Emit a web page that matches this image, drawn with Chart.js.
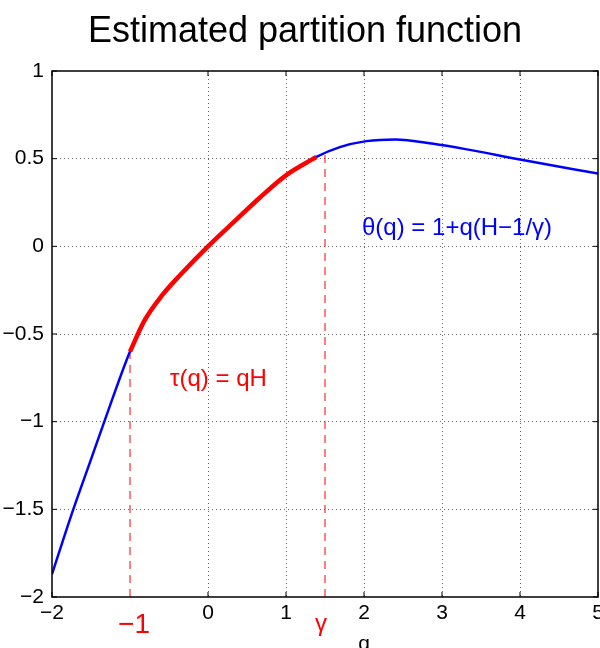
<!DOCTYPE html>
<html>
<head>
<meta charset="utf-8">
<script src="https://cdn.jsdelivr.net/npm/chart.js@4.4.0/dist/chart.umd.min.js"></script>
<style>
  html, body { margin: 0; padding: 0; background: #fff; }
  #wrap { width: 600px; height: 648px; }
</style>
</head>
<body>
<div id="wrap"><canvas id="myChart" width="600" height="648"></canvas></div>
<script>
// data
const qBlue = [-2, -1.75, -1.5, -1.25, -1, -0.81, -0.59, -0.36, 0, 0.37, 0.67, 1, 1.39, 1.69, 2.03, 2.4, 2.89, 3.32, 4, 5];
const yBlue = [-1.87, -1.53, -1.215, -0.9, -0.6, -0.42, -0.28, -0.165, 0, 0.155, 0.28, 0.405, 0.51, 0.566, 0.6, 0.61, 0.585, 0.553, 0.495, 0.415];
const qRed = [-1, -0.81, -0.59, -0.36, 0, 0.37, 0.67, 1, 1.39];
const yRed = [-0.6, -0.42, -0.28, -0.165, 0, 0.155, 0.28, 0.405, 0.51];

const gammaVal = 1.5;
const dashQ = [-1, gammaVal];
const dashTop = [-0.6, 0.52];

const xTicks = [-2, -1, 0, 1, 2, 3, 4, 5];
const yTicks = [-2, -1.5, -1, -0.5, 0, 0.5, 1];

function pts(xs, ys) {
    return xs.map((x, i) => ({ x: x, y: ys[i] }));
}
function fmt(v) {
    return String(v).replace('-', '\u2212');
}

const FONT = '"Liberation Sans", Arial, Helvetica, sans-serif';
const NARROW = '"Liberation Sans Narrow", "Liberation Sans", Arial, sans-serif';

// box, inward ticks and text labels (matlab style)
const extras = {
    id: 'extras',
    afterDatasetsDraw(chart) {
        const ctx = chart.ctx;
        const a = chart.chartArea;
        const xs = chart.scales.x, ys = chart.scales.y;
        ctx.save();
        ctx.strokeStyle = '#000';
        ctx.lineWidth = 1.5;
        ctx.strokeRect(a.left, a.top, a.right - a.left, a.bottom - a.top);
        ctx.lineWidth = 1;
        const tl = 5;
        xTicks.forEach(v => {
            if (v === -1) return;
            const px = xs.getPixelForValue(v);
            ctx.beginPath();
            ctx.moveTo(px, a.bottom); ctx.lineTo(px, a.bottom - tl);
            ctx.moveTo(px, a.top); ctx.lineTo(px, a.top + tl);
            ctx.stroke();
        });
        yTicks.forEach(v => {
            const py = ys.getPixelForValue(v);
            ctx.beginPath();
            ctx.moveTo(a.left, py); ctx.lineTo(a.left + tl, py);
            ctx.moveTo(a.right, py); ctx.lineTo(a.right - tl, py);
            ctx.stroke();
        });

        // title
        ctx.fillStyle = '#000';
        ctx.font = '36px ' + FONT;
        ctx.textAlign = 'center';
        ctx.textBaseline = 'alphabetic';
        ctx.fillText('Estimated partition function', 305, 42);

        // formulas
        ctx.textBaseline = 'middle';
        ctx.font = '24px ' + FONT;
        ctx.textAlign = 'left';
        ctx.fillStyle = '#ff0000';
        ctx.fillText('\u03c4(q) = qH', 170, 379);
        ctx.fillStyle = '#0000ff';
        ctx.fillText('\u03b8(q) = 1+q(H\u22121/\u03b3)', 362, 228);

        // special ticks under the axis
        ctx.textAlign = 'center';
        ctx.fillStyle = '#ff0000';
        ctx.font = '28px ' + NARROW;
        ctx.fillText('\u22121', xs.getPixelForValue(-1) + 4, 625);
        ctx.font = '24px ' + FONT;
        ctx.fillText('\u03b3', xs.getPixelForValue(gammaVal) - 4, 624);

        // axis label
        ctx.fillStyle = '#000';
        ctx.font = '21px ' + NARROW;
        ctx.fillText('q', xs.getPixelForValue(2), 644);
        ctx.restore();
    }
};

const gridColor = (ctx, skip) => skip.includes(ctx.tick.value) ? 'rgba(0,0,0,0)' : '#666';

new Chart(document.getElementById('myChart'), {
    type: 'line',
    data: {
        datasets: [
            {
                data: pts(qRed, yRed),     // tau(q) part, on top
                borderColor: '#ff0000', borderWidth: 4.5,
                cubicInterpolationMode: 'monotone',
                pointRadius: 0, fill: false
            },
            {
                data: pts(qBlue, yBlue),   // whole curve
                borderColor: '#0000ff', borderWidth: 2.5,
                cubicInterpolationMode: 'monotone',
                pointRadius: 0, fill: false
            },
            {
                data: pts([dashQ[0], dashQ[0]], [-2, dashTop[0]]),
                borderColor: '#ff0000', borderWidth: 1, borderDash: [8, 6],
                pointRadius: 0, fill: false
            },
            {
                data: pts([dashQ[1], dashQ[1]], [-2, dashTop[1]]),
                borderColor: '#ff0000', borderWidth: 1, borderDash: [8, 6],
                pointRadius: 0, fill: false
            }
        ]
    },
    options: {
        responsive: false,
        animation: false,
        events: [],
        layout: { padding: { top: 71, right: 2, left: 0, bottom: 0 } },
        plugins: {
            legend: { display: false },
            tooltip: { enabled: false },
            title: { display: false }
        },
        scales: {
            x: {
                type: 'linear',
                min: -2, max: 5,
                afterBuildTicks: s => { s.ticks = xTicks.map(v => ({ value: v })); },
                afterFit: s => { s.height = 51; s.paddingLeft = 0; s.paddingRight = 0; },
                ticks: {
                    color: '#000',
                    font: { family: NARROW, size: 21 },
                    padding: 4,
                    maxRotation: 0,
                    callback: v => v === -1 ? '' : fmt(v)
                },
                grid: {
                    color: c => gridColor(c, [-2, -1, 5]),
                    lineWidth: 1,
                    drawTicks: false
                },
                border: { display: false, dash: [1, 3] }
            },
            y: {
                min: -2, max: 1,
                afterBuildTicks: s => { s.ticks = yTicks.map(v => ({ value: v })); },
                afterFit: s => { s.width = 52; s.paddingTop = 0; s.paddingBottom = 0; },
                ticks: {
                    color: '#000',
                    font: { family: NARROW, size: 21 },
                    padding: 8,
                    callback: v => fmt(v)
                },
                grid: {
                    color: c => gridColor(c, [-2, 1]),
                    lineWidth: 1,
                    drawTicks: false
                },
                border: { display: false, dash: [1, 3] }
            }
        }
    },
    plugins: [extras]
});
</script>
</body>
</html>
